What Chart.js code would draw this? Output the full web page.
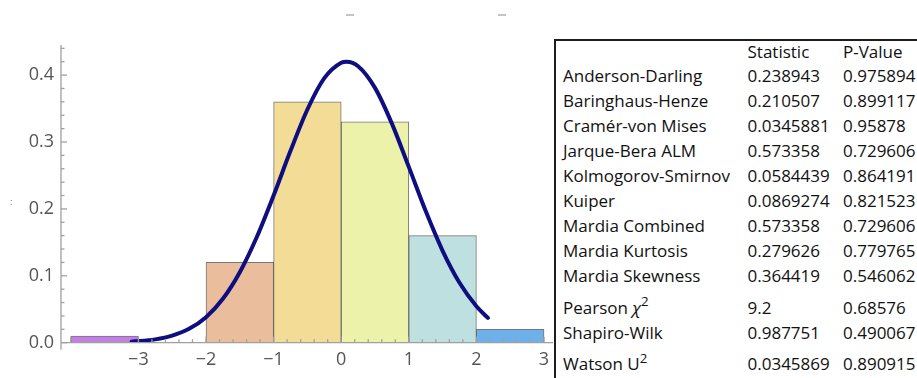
<!DOCTYPE html>
<html>
<head>
<meta charset="utf-8">
<script src="https://cdn.jsdelivr.net/npm/chart.js@4.4.1/dist/chart.umd.min.js"></script>
<style>
  html, body { margin: 0; padding: 0; background: #fff; }
  body { width: 917px; height: 378px; position: relative; overflow: hidden; font-family: "Open Sans", sans-serif; }
  #plot { position: absolute; left: 0; top: 0; }
  #testsBox { position: absolute; left: 554px; top: 38.5px; width: 400px; height: 360px;
              border-top: 2px solid #1c1c1c; border-left: 2px solid #1c1c1c; background: #fff; }
  .cell { position: absolute; font-size: 17px; line-height: 20px; color: #111; white-space: nowrap; }
  .cell sup { font-size: 0.78em; line-height: 0; position: relative; top: -0.05em; vertical-align: super; }
  .cell i { font-style: italic; }
  .dash { position: absolute; height: 2px; width: 8px; background: #c4c4c4; top: 13.5px; }
  .mark { position: absolute; left: 10px; top: 197px; font-size: 9px; color: #3b7dd8; line-height: 10px; }
</style>
</head>
<body>
<canvas id="plot" width="560" height="378"></canvas>
<div class="dash" style="left:346px"></div>
<div class="dash" style="left:498px"></div>
<div class="mark">:</div>
<div id="testsBox"></div>
<div id="tests"></div>
<script>
// Histogram of the sample (bin start, density per unit width)
const binStarts  = [-4, -3, -2, -1, 0, 1, 2];
const binDensity = [0.01, 0, 0.12, 0.36, 0.33, 0.16, 0.02];
const binColors  = ['#c47ee8', '#d9b0c0', '#eabd9c', '#f3dd96', '#ecf2aa', '#bfe0e0', '#6cb1ea'];

// Fitted normal density, sampled along x
const curveX = [-3.1, -2.75, -2.5, -2.25, -2.0, -1.75, -1.5, -1.25, -1.0, -0.75, -0.5, -0.25, 0, 0.08, 0.25, 0.5, 0.75, 1.0, 1.25, 1.5, 1.75, 2.0, 2.17];
const curveY = [0.0016, 0.0050, 0.0105, 0.0207, 0.0382, 0.0657, 0.1054, 0.1576, 0.2201, 0.2868, 0.3486, 0.3954, 0.4185, 0.4200, 0.4133, 0.3809, 0.3275, 0.2628, 0.1967, 0.1374, 0.0896, 0.0545, 0.0370];

// Goodness-of-fit tests
const testHeaders = ['Statistic', 'P-Value'];
const testNames = ['Anderson-Darling', 'Baringhaus-Henze', 'Cramér-von Mises', 'Jarque-Bera ALM',
  'Kolmogorov-Smirnov', 'Kuiper', 'Mardia Combined', 'Mardia Kurtosis', 'Mardia Skewness',
  'Pearson <i>χ</i><sup>2</sup>', 'Shapiro-Wilk', 'Watson U<sup>2</sup>'];
const testStatistics = ['0.238943', '0.210507', '0.0345881', '0.573358', '0.0584439', '0.0869274',
  '0.573358', '0.279626', '0.364419', '9.2', '0.987751', '0.0345869'];
const testPValues = ['0.975894', '0.899117', '0.95878', '0.729606', '0.864191', '0.821523',
  '0.729606', '0.779765', '0.546062', '0.68576', '0.490067', '0.890915'];

// Axis lines with inward major/minor ticks, Mathematica style
const axesPlugin = {
  id: 'insideAxes',
  afterDatasetsDraw(chart) {
    const { ctx, chartArea: a, scales: { x, y } } = chart;
    const y0 = y.getPixelForValue(0);
    const xl = a.left;
    ctx.save();
    ctx.strokeStyle = '#a0a0a0';
    ctx.lineWidth = 1.3;
    const seg = (x1, y1, x2, y2) => { ctx.beginPath(); ctx.moveTo(x1, y1); ctx.lineTo(x2, y2); ctx.stroke(); };
    seg(xl, y0, a.right, y0);
    seg(xl, a.top, xl, y0 + 7);
    for (let k = -20; k <= 16; k++) {
      const px = x.getPixelForValue(k / 5);
      if (px < a.left || px > a.right) continue;
      seg(px, y0, px, y0 - (k % 5 === 0 ? 6 : 3.5));
    }
    for (let k = 0; k <= 22; k++) {
      const py = y.getPixelForValue(k * 0.02);
      if (py < a.top - 0.5) continue;
      seg(xl, py, xl + (k % 5 === 0 ? 6 : 3.5), py);
    }
    ctx.restore();
  }
};

const labelFont = { family: 'Open Sans', size: 18 };

new Chart(document.getElementById('plot'), {
  type: 'bar',
  data: {
    datasets: [
      {
        type: 'line',
        data: curveX.map((v, i) => ({ x: v, y: curveY[i] })),
        borderColor: '#0e0e80',
        borderWidth: 4,
        borderCapStyle: 'round',
        pointRadius: 0,
        fill: false,
        cubicInterpolationMode: 'monotone',
        order: 0
      },
      {
        type: 'bar',
        data: binStarts.map((s, i) => ({ x: s + 0.5, y: binDensity[i] })),
        backgroundColor: binColors,
        borderColor: 'rgba(55,55,55,0.68)',
        borderWidth: 1,
        categoryPercentage: 1,
        barPercentage: 1,
        grouped: false,
        order: 1
      }
    ]
  },
  options: {
    responsive: false,
    animation: false,
    devicePixelRatio: 1,
    layout: { padding: { top: 45, right: 7, left: 0, bottom: 0 } },
    plugins: { legend: { display: false }, tooltip: { enabled: false } },
    scales: {
      x: {
        type: 'linear',
        min: -4.145,
        max: 3.133,
        offset: false,
        grid: { display: false, drawTicks: false },
        border: { display: false },
        ticks: {
          stepSize: 1, includeBounds: false, padding: 6, autoSkip: false, maxRotation: 0,
          color: '#555', font: labelFont,
          callback: v => (v < -3 ? null : String(v).replace('-', '\u2212'))
        },
        afterFit: s => { s.height = 35.3; }
      },
      y: {
        min: 0,
        max: 0.445,
        grid: { display: false, drawTicks: false },
        border: { display: false },
        ticks: {
          stepSize: 0.1, includeBounds: false, padding: 7,
          color: '#555', font: labelFont,
          callback: v => v.toFixed(1)
        },
        afterFit: s => { s.width = 61; }
      }
    }
  },
  plugins: [axesPlugin]
});

// Results table
const host = document.getElementById('tests');
const colLeft = [563, 747.5, 843];
function cell(html, left, center) {
  const d = document.createElement('div');
  d.className = 'cell';
  d.style.left = left + 'px';
  d.style.top = (center - 10.5) + 'px';
  d.innerHTML = html;
  host.appendChild(d);
}
cell(testHeaders[0], colLeft[1], 52.7);
cell(testHeaders[1], colLeft[2], 52.7);
let yc = 76.7;
testNames.forEach((name, i) => {
  if (i > 0) yc += name.includes('<sup>') ? 31.5 : 25;
  cell(name, colLeft[0], yc);
  cell(testStatistics[i], colLeft[1], yc);
  cell(testPValues[i], colLeft[2], yc);
});
</script>
</body>
</html>
